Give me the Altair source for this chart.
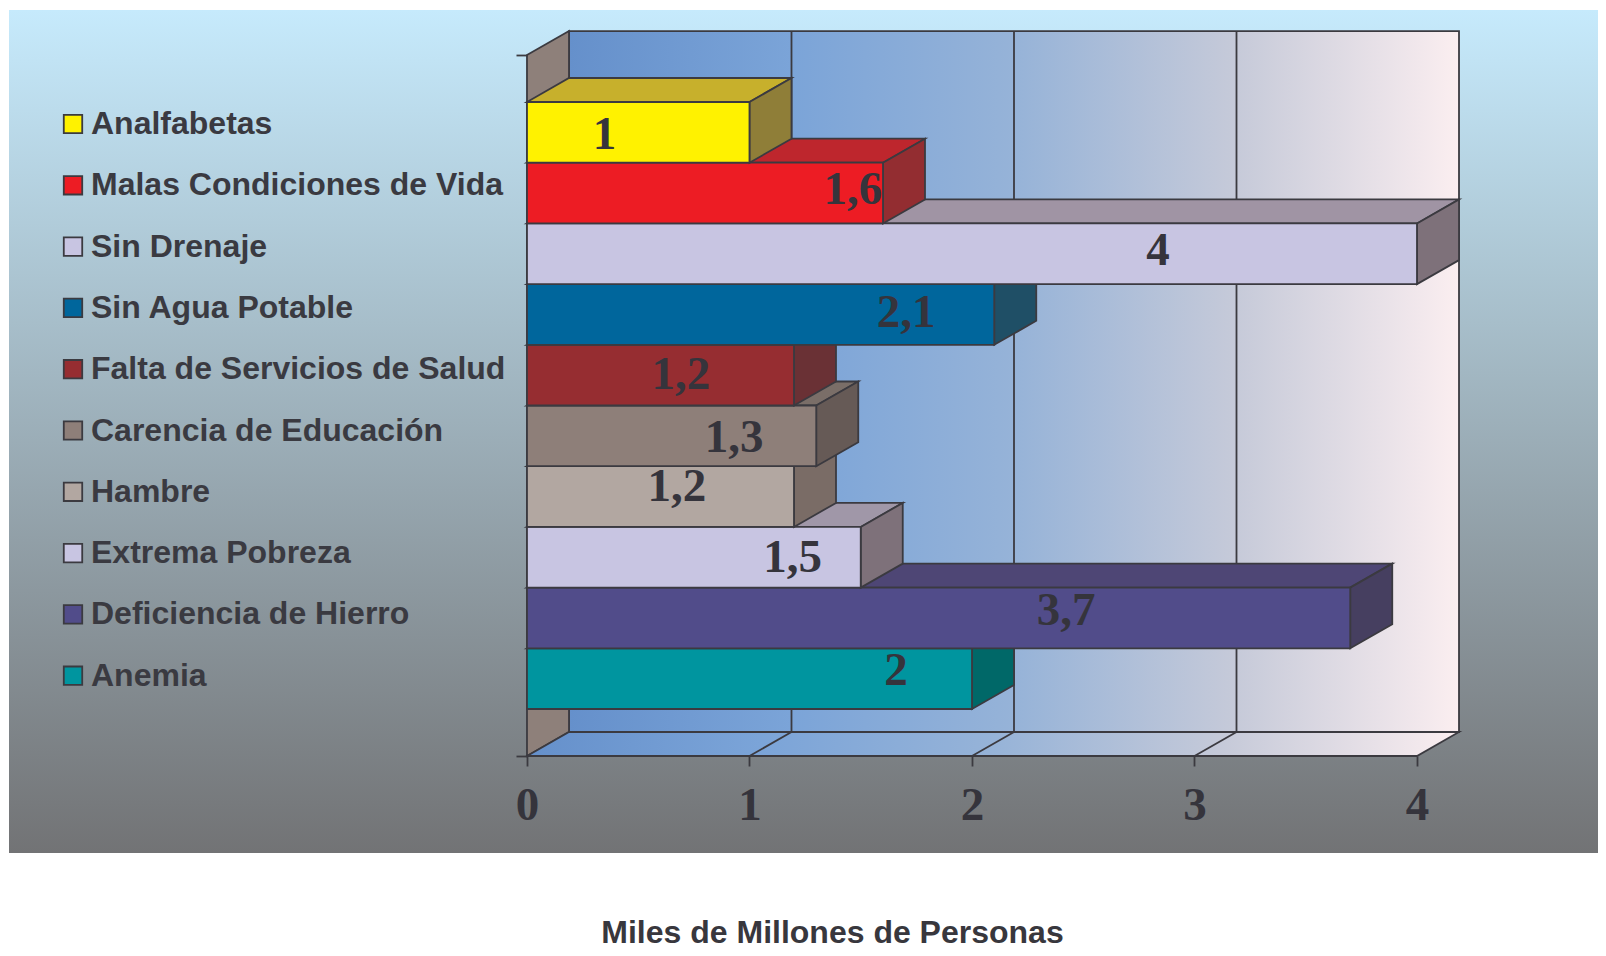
import altair as alt
import pandas as pd

categories = ["Analfabetas", "Malas Condiciones de Vida", "Sin Drenaje", "Sin Agua Potable",
              "Falta de Servicios de Salud", "Carencia de Educación", "Hambre",
              "Extrema Pobreza", "Deficiencia de Hierro", "Anemia"]
values = [1, 1.6, 4, 2.1, 1.2, 1.3, 1.2, 1.5, 3.7, 2]
labels = ["1", "1,6", "4", "2,1", "1,2", "1,3", "1,2", "1,5", "3,7", "2"]
x_ticks = [0, 1, 2, 3, 4]

front_colors = ["#fff200", "#ed1c24", "#c8c5e2", "#00669c", "#962d31",
                "#8e7f79", "#b2a7a1", "#c8c5e2", "#514c8a", "#00959f"]
top_colors = ["#c7b02c", "#be262d", "#a094a4", "#1f4f66", "#6a3135",
              "#7a6e68", "#7a6c66", "#a097a8", "#4e4675", "#006868"]
side_colors = ["#8f7e38", "#932d31", "#7e717a", "#1f4f66", "#6a3135",
               "#665a56", "#7a6c66", "#7e717a", "#463f60", "#006868"]
wall_colors = ["#6590cb", "#7ba4d8", "#96b3d8", "#c6cad9", "#fbeef0"]

# label nudges from the bar end / band centre, in pixels
label_dx = [-145, -30, -259, -88, -113, -82, -117, -68, -284, -76]
label_dy = [3, -3, -3, -1, 0, 2, -10, 1, -7, -8]

INK = "#3b3a40"
DX, DY = 0.1888, 0.3954         # depth of the 3-D box in axis units
FLOOR, CEIL = 10.774, -0.774    # front edge of the box, in band units
X_MIN, X_MAX = -2.328, 4.8135
Y_MIN, Y_MAX = -1.516, 12.372

xs = alt.Scale(domain=[X_MIN, X_MAX], nice=False, zero=False)
ys = alt.Scale(domain=[Y_MAX, Y_MIN], nice=False, zero=False)

SANS = "Liberation Sans"
SERIF = "Liberation Serif"

x_axis = alt.Axis(values=x_ticks, offset=-97, domain=False, grid=False, ticks=True, tickSize=10,
                  tickColor=INK, tickWidth=1.8, labelFont=SERIF, labelFontWeight="bold",
                  labelFontSize=47, labelColor="#35343c", labelPadding=16, labelOverlap=False,
                  labelBound=False, labelFlush=False, format="d", zindex=1,
                  title="Miles de Millones de Personas", titleFont=SANS, titleFontWeight="bold",
                  titleFontSize=32, titleColor="#38373d", titleX=823, titleY=186,
                  titleBaseline="alphabetic", titleAlign="center", titleAnchor="start")
y_axis = alt.Axis(values=[CEIL, FLOOR], offset=-518, domain=False, grid=False, ticks=True, zindex=1,
                  tickSize=11, tickColor=INK, tickWidth=1.8, labels=False, title=None)


def X():
    return alt.X("x:Q", scale=xs, axis=x_axis)


def Y():
    return alt.Y("y:Q", scale=ys, axis=y_axis)


def grad(*cols, vertical=False):
    n = len(cols) - 1
    return {"gradient": "linear", "x1": 0, "y1": 0,
            "x2": 0 if vertical else 1, "y2": 1 if vertical else 0,
            "stops": [{"offset": i / n, "color": c} for i, c in enumerate(cols)]}


def band_face(x0, x1, y_front):
    """horizontal face: sheared parallelogram going back from y_front"""
    return pd.DataFrame({"x": [x0, x0 + DX, x1, x1 + DX],
                         "y": [y_front] * 3 + [y_front - DY],
                         "y2": [y_front, y_front - DY, y_front - DY, y_front - DY]})


def side_face(x0, top, bottom):
    return pd.DataFrame({"x": [x0, x0 + DX], "y": [top, top - DY], "y2": [bottom, bottom - DY]})


def area(df, fill, width=1.8):
    return alt.Chart(df).mark_area(fill=fill, stroke=INK, strokeWidth=width, opacity=1).encode(
        x=X(), y=Y(), y2="y2:Q")


bg = alt.Chart(pd.DataFrame({"x": [X_MIN], "x2": [X_MAX], "y": [Y_MIN], "y2": [Y_MAX]})).mark_rect(
    fill=grad("#c6eafc", "#727375", vertical=True), opacity=1).encode(
    x=X(), x2="x2:Q", y=Y(), y2="y2:Q")

layers = [bg]

# box: back wall, left wall, floor
layers.append(alt.Chart(pd.DataFrame({"x": [DX], "x2": [4 + DX], "y": [CEIL - DY], "y2": [FLOOR - DY]}))
              .mark_rect(fill=grad(*wall_colors), stroke=INK, strokeWidth=1.8, opacity=1)
              .encode(x=X(), x2="x2:Q", y=Y(), y2="y2:Q"))
layers.append(area(side_face(0, CEIL, FLOOR), "#8e807a"))
layers.append(area(band_face(0, 4, FLOOR), grad(*wall_colors)))

# grid lines on wall and floor
for v in x_ticks[1:4]:
    layers.append(alt.Chart(pd.DataFrame({"x": [v + DX, v + DX, v], "y": [CEIL - DY, FLOOR - DY, FLOOR],
                                          "o": [0, 1, 2]}))
                  .mark_line(color=INK, strokeWidth=1.8).encode(x=X(), y=Y(), order="o:O"))

color = alt.Color("cat:N", scale=alt.Scale(domain=categories, range=front_colors),
                  legend=alt.Legend(title=None, orient="none", legendX=48, legendY=98, symbolType="square",
                                    symbolSize=340, symbolStrokeColor=INK, symbolStrokeWidth=1.8,
                                    symbolOpacity=1, labelFont=SANS, labelFontWeight="bold",
                                    labelFontSize=32, labelColor="#3a3a41", labelOffset=2,
                                    rowPadding=29.3, labelLimit=600))

# bars, bottom one first so that each upper bar lies in front of the one below
for i in range(len(categories) - 1, -1, -1):
    v = values[i]
    top, bottom = float(i), float(i + 1)
    layers.append(area(band_face(0, v, top), top_colors[i]))
    layers.append(area(side_face(v, top, bottom), side_colors[i]))
    layers.append(alt.Chart(pd.DataFrame({"x": [0], "x2": [v], "y": [top], "y2": [bottom],
                                          "cat": [categories[i]]}))
                  .mark_rect(stroke=INK, strokeWidth=1.8, opacity=1)
                  .encode(x=X(), x2="x2:Q", y=Y(), y2="y2:Q", color=color))

for i in range(len(categories)):
    layers.append(alt.Chart(pd.DataFrame({"x": [values[i]], "y": [i + 0.5], "t": [labels[i]]}))
                  .mark_text(font=SERIF, fontWeight="bold", fontSize=47, color="#35343c",
                             dx=label_dx[i], dy=label_dy[i], baseline="middle", align="center")
                  .encode(x=X(), y=Y(), text="t:N"))

chart = alt.layer(*layers).properties(
    width=1589, height=843,
    padding={"left": 1, "top": 2, "right": 0, "bottom": 95},
    autosize=alt.AutoSizeParams(type="none"),
    background="white",
).configure_view(stroke=None)

chart.save("out.html", embed_options={"renderer": "svg", "actions": False})
